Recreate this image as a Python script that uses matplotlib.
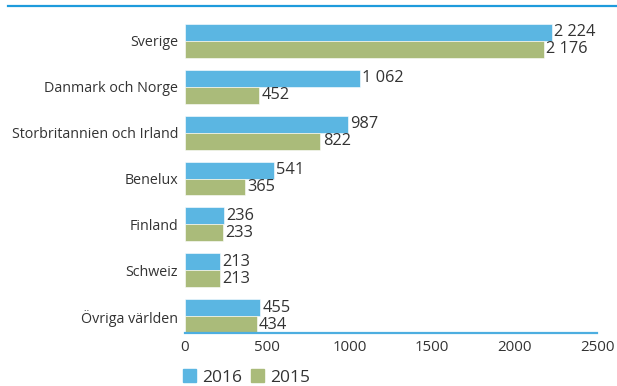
import matplotlib
matplotlib.use("Agg")
import matplotlib.pyplot as plt
from matplotlib.lines import Line2D
from matplotlib.patches import Patch
import numpy as np

plt.rcParams["font.family"] = ["Open Sans", "DejaVu Sans"]

regions = ["Sverige", "Danmark och Norge", "Storbritannien och Irland",
           "Benelux", "Finland", "Schweiz", "Övriga världen"]
v2016 = [2224, 1062, 987, 541, 236, 213, 455]
v2015 = [2176, 452, 822, 365, 233, 213, 434]
years = ["2016", "2015"]

c2016 = "#5bb6e2"
c2015 = "#aabb7a"
txt = "#333333"

fig = plt.figure(figsize=(6.17, 3.86), dpi=100)
ax = fig.add_axes([0.2998, 0.1373, 0.6678, 0.81])

y = np.arange(len(regions))
h = 0.37
ax.barh(y - h / 2, v2016, height=h, color=c2016, edgecolor="white", linewidth=0.4)
ax.barh(y + h / 2, v2015, height=h, color=c2015, edgecolor="white", linewidth=0.4)

def fmt(v):
    return f"{v:,}".replace(",", " ")

for yi, a, b in zip(y, v2016, v2015):
    ax.text(a + 14, yi - h / 2, fmt(a), va="center", ha="left", fontsize=11.8, color=txt)
    ax.text(b + 14, yi + h / 2, fmt(b), va="center", ha="left", fontsize=11.8, color=txt)

ax.set_xlim(0, 2500)
ax.set_ylim(len(regions) - 1 + h, -0.45)
ax.set_yticks(y)
ax.set_yticklabels(regions, fontsize=10.3, color=txt)
ax.set_xticks([0, 500, 1000, 1500, 2000, 2500])
ax.tick_params(axis="x", length=0, labelsize=10.8, labelcolor=txt, pad=5)
ax.tick_params(axis="y", length=0, pad=5)

for s in ["top", "right", "left"]:
    ax.spines[s].set_visible(False)
ax.spines["bottom"].set_color("#4daee0")
ax.spines["bottom"].set_linewidth(1.6)

# rule across the top of the figure
fig.add_artist(Line2D([0.013, 1.0], [0.984, 0.984], color="#1e9bdc", linewidth=1.6))

handles = [Patch(color=c2016), Patch(color=c2015)]
fig.legend(handles, years, loc="center left", bbox_to_anchor=(0.283, 0.022),
           ncol=2, frameon=False, fontsize=12.5, handlelength=0.75, handleheight=0.75,
           handletextpad=0.35, columnspacing=0.5, labelcolor=txt, borderpad=0)

fig.savefig("out.png", dpi=100)
